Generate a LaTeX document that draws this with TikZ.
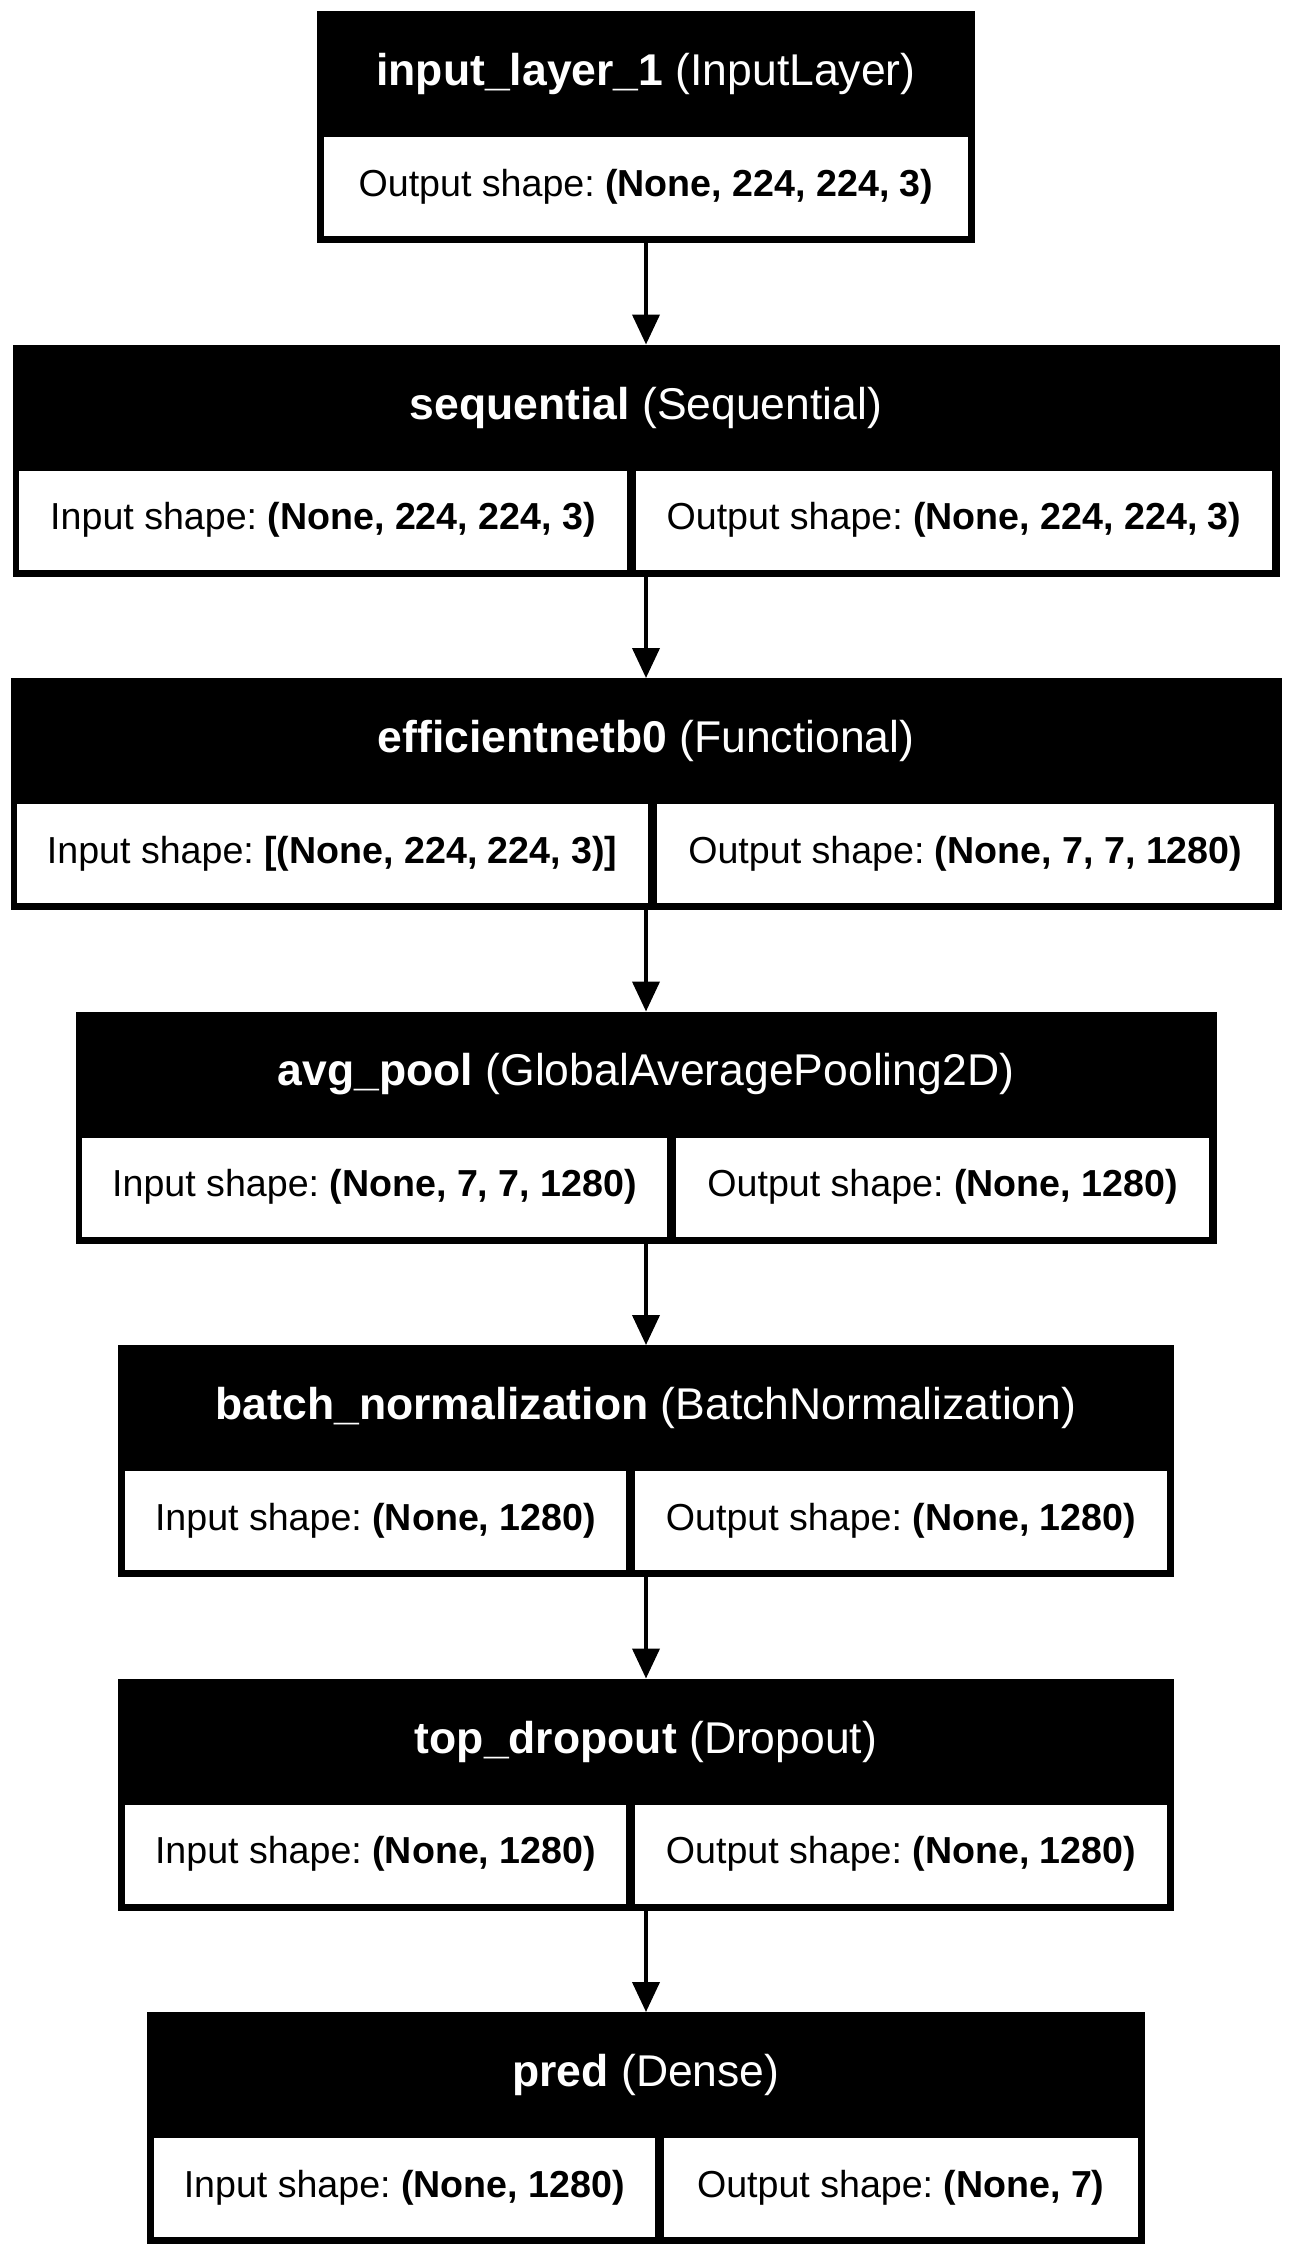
\documentclass[tikz,border=0pt]{standalone}
\usepackage{fontspec}
\setmainfont{Liberation Sans}
\usepackage{tikz}
\usetikzlibrary{arrows.meta,positioning}
\newcommand{\headfont}{\fontsize{44.5}{50}\selectfont}
\newcommand{\cellfont}{\fontsize{37.6}{42}\selectfont}
\frenchspacing

\begin{document}
\begin{tikzpicture}[
  x=1pt, y=-1pt,
  layer/.style={rectangle, fill=black, draw=none, inner sep=0pt, outer sep=0pt, minimum height=232pt},
  head/.style={text=white, font=\headfont, inner sep=0pt},
  cell/.style={rectangle, fill=white, draw=none, inner sep=0pt, outer sep=0pt, minimum height=99pt, font=\cellfont},
  edge/.style={-{Triangle[length=30pt,width=27pt]}, line width=4pt}
]
  \useasboundingbox (0,0) rectangle (1292,2256);
  % Layer boxes
  \node[layer, minimum width=658pt]  (in1)  at (646, 127)    {};
  \node[layer, minimum width=1267pt] (seq)  at (646, 460.5)  {};
  \node[layer, minimum width=1271pt] (eff)  at (646, 794)    {};
  \node[layer, minimum width=1141pt] (pool) at (646, 1127.5) {};
  \node[layer, minimum width=1056pt] (bn)   at (646, 1461)   {};
  \node[layer, minimum width=1056pt] (drop) at (646, 1794.5) {};
  \node[layer, minimum width=998pt]  (pred) at (646, 2128)   {};
  % Headers
  \node[head] (in1h)  at (646, 74)     {\textbf{input\_layer\_1} (InputLayer)};
  \node[head] (seqh)  at (646, 407.5)  {\textbf{sequential} (Sequential)};
  \node[head] (effh)  at (646, 741)    {\textbf{efficientnetb0} (Functional)};
  \node[head] (poolh) at (646, 1074.5) {\textbf{avg\_pool} (GlobalAveragePooling2D)};
  \node[head] (bnh)   at (646, 1408)   {\textbf{batch\_normalization} (BatchNormalization)};
  \node[head] (droph) at (646, 1741.5) {\textbf{top\_dropout} (Dropout)};
  \node[head] (predh) at (646, 2075)   {\textbf{pred} (Dense)};
  % Shape cells
  \node[cell, minimum width=644pt]   (in1o)  at (646, 186.5)    {Output shape: \textbf{(None, 224, 224, 3)}};
  \node[cell, minimum width=608pt]   (seqi)  at (323, 520)      {Input shape: \textbf{(None, 224, 224, 3)}};
  \node[cell, minimum width=636pt]   (seqo)  at (954, 520)      {Output shape: \textbf{(None, 224, 224, 3)}};
  \node[cell, minimum width=630.5pt] (effi)  at (332.25, 853.5) {Input shape: \textbf{[(None, 224, 224, 3)]}};
  \node[cell, minimum width=617.5pt] (effo)  at (965.25, 853.5) {Output shape: \textbf{(None, 7, 7, 1280)}};
  \node[cell, minimum width=585pt]   (pooli) at (374.5, 1187)   {Input shape: \textbf{(None, 7, 7, 1280)}};
  \node[cell, minimum width=533pt]   (poolo) at (942.5, 1187)   {Output shape: \textbf{(None, 1280)}};
  \node[cell, minimum width=501pt]   (bni)   at (375.5, 1520.5) {Input shape: \textbf{(None, 1280)}};
  \node[cell, minimum width=532pt]   (bno)   at (901, 1520.5)   {Output shape: \textbf{(None, 1280)}};
  \node[cell, minimum width=501pt]   (dropi) at (375.5, 1854)   {Input shape: \textbf{(None, 1280)}};
  \node[cell, minimum width=532pt]   (dropo) at (901, 1854)     {Output shape: \textbf{(None, 1280)}};
  \node[cell, minimum width=500.5pt] (predi) at (404.25, 2187.5) {Input shape: \textbf{(None, 1280)}};
  \node[cell, minimum width=474.5pt] (predo) at (900.75, 2187.5) {Output shape: \textbf{(None, 7)}};
  % Connections
  \draw[edge] (in1) -- (seq);
  \draw[edge] (seq) -- (eff);
  \draw[edge] (eff) -- (pool);
  \draw[edge] (pool) -- (bn);
  \draw[edge] (bn) -- (drop);
  \draw[edge] (drop) -- (pred);
\end{tikzpicture}
\end{document}
